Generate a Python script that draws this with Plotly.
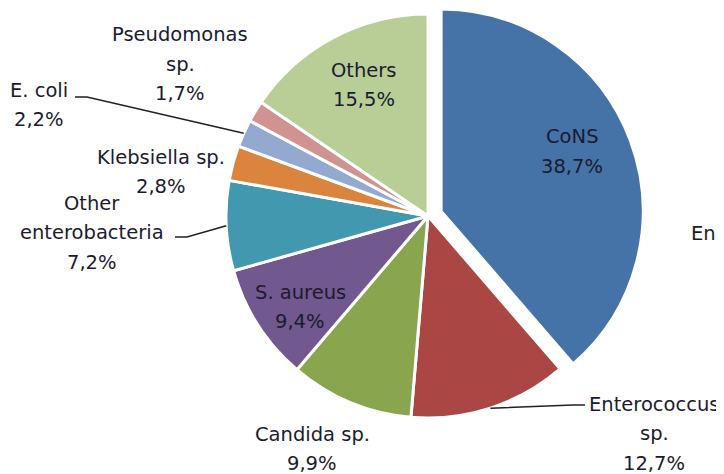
import math
import plotly.graph_objects as go

# ---------------- data ----------------
categories = ["CoNS", "Enterococcus sp.", "Candida sp.", "S. aureus",
              "Other enterobacteria", "Klebsiella sp.", "E. coli",
              "Pseudomonas sp.", "Others"]
values = [38.7, 12.7, 9.9, 9.4, 7.2, 2.8, 2.2, 1.7, 15.5]
label_lines = [["CoNS"], ["Enterococcus", "sp."], ["Candida sp."], ["S. aureus"],
               ["Other", "enterobacteria"], ["Klebsiella sp."], ["E. coli"],
               ["Pseudomonas", "sp."], ["Others"]]
colors = ["#4572A7", "#AA4643", "#89A54E", "#71588F", "#4198AF",
          "#DB843D", "#93A9CF", "#D19392", "#B9CD96"]
exploded = 0  # index of the slice pulled out of the pie

# ---------------- layout constants (window pixels) ----------------
OFF = 8                      # page body margin
W, H = 724 - OFF, 474 - OFF  # figure size
CX, CY = 428, 216            # pie centre in window pixels
R = 202                      # pie radius
PULL_PX = 14                 # explosion distance of the pulled slice
LINE = 29.5
FONT = dict(family="DejaVu Sans", size=19.5, color="#1b1b2f")
# first-line centre of each label
label_pos = [(572, 137), (654, 404), (312, 434), (300, 292), (92, 203),
             (161, 157), (39, 90), (180, 35), (364, 70)]
# leader lines: index -> (text end x, y, knee x)
leaders = {1: (585, 405, 573), 4: (175, 237, 187), 6: (75, 97, 87)}


def px(x):
    return (x - OFF) / W


def py(y):
    return 1 - (y - OFF) / H


total = sum(values)
cum = 0
mids = []
for v in values:
    mids.append((cum + v / 2) / total * 2 * math.pi)
    cum += v


def domain(cx, cy):
    return dict(x=[px(cx - R), px(cx + R)], y=[py(cy + R), py(cy - R)])


# main pie (exploded slice left transparent)
colors_main = [("rgba(0,0,0,0)" if i == exploded else c) for i, c in enumerate(colors)]
widths_main = [(0 if i == exploded else 3) for i in range(len(values))]
fig = go.Figure(go.Pie(
    labels=categories, values=values, sort=False, direction="clockwise",
    rotation=0, textinfo="none", hoverinfo="label+percent",
    marker=dict(colors=colors_main, line=dict(color="white", width=widths_main)),
    domain=domain(CX, CY), showlegend=False,
))

# exploded slice, drawn from the same values with the pie shifted outward
a = mids[exploded]
ecx = CX + PULL_PX * math.sin(a)
ecy = CY - PULL_PX * math.cos(a)
colors_exp = [(c if i == exploded else "rgba(0,0,0,0)") for i, c in enumerate(colors)]
widths_exp = [(3 if i == exploded else 0) for i in range(len(values))]
fig.add_trace(go.Pie(
    labels=categories, values=values, sort=False, direction="clockwise",
    rotation=0, textinfo="none", hoverinfo="skip",
    marker=dict(colors=colors_exp, line=dict(color="white", width=widths_exp)),
    domain=domain(ecx, ecy), showlegend=False,
))

annotations = []
for i, (lines, v) in enumerate(zip(label_lines, values)):
    pct = f"{v:.1f}".replace(".", ",") + "%"
    x0, y0 = label_pos[i]
    for k, t in enumerate(lines + [pct]):
        annotations.append(dict(
            x=px(x0), y=py(y0 + k * LINE), xref="paper", yref="paper",
            text=t, showarrow=False, xanchor="center", yanchor="middle",
            font=FONT))

# text of the neighbouring chart, cut off at the right edge
annotations.append(dict(x=px(689), y=py(233), xref="paper", yref="paper",
                        text="Enterococcus", showarrow=False, xanchor="left",
                        yanchor="middle", font=FONT))

shapes = []
for i, (xe, ye, xk) in leaders.items():
    a = mids[i]
    sx = CX + R * math.sin(a)
    sy = CY - R * math.cos(a)
    path = f"M {px(xe)} {py(ye)} L {px(xk)} {py(ye)} L {px(sx)} {py(sy)}"
    shapes.append(dict(type="path", path=path, xref="paper", yref="paper",
                       line=dict(color="#222222", width=1.5)))

fig.update_layout(
    width=W, height=H, margin=dict(l=0, r=0, t=0, b=0),
    paper_bgcolor="white", plot_bgcolor="white",
    annotations=annotations, shapes=shapes,
)

fig.write_html("out.html")
